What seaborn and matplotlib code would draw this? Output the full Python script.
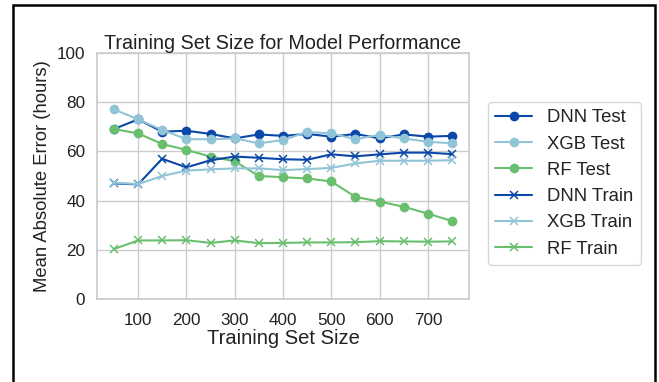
import numpy as np
import pandas as pd
import matplotlib
matplotlib.use("Agg")
import matplotlib.pyplot as plt
import seaborn as sns
from matplotlib.patches import Rectangle

# data
train_sizes = [50, 100, 150, 200, 250, 300, 350, 400, 450, 500, 550, 600, 650, 700, 750]

dnn_test = [69.1, 73.0, 68.0, 68.4, 67.1, 65.3, 66.9, 66.3, 67.1, 66.0, 67.1, 65.3, 66.9, 66.0, 66.3]
xgb_test = [77.1, 73.0, 68.7, 65.0, 64.9, 65.3, 63.3, 64.6, 67.9, 67.3, 65.0, 66.7, 65.3, 63.9, 63.3]
rf_test = [69.1, 67.3, 63.0, 60.6, 57.9, 56.0, 50.0, 49.5, 49.0, 47.8, 41.5, 39.6, 37.5, 34.7, 31.7]
dnn_train = [47.0, 46.6, 57.0, 53.5, 56.4, 57.9, 57.4, 56.8, 56.6, 58.8, 58.0, 58.8, 59.5, 59.5, 58.9]
xgb_train = [47.3, 46.7, 50.0, 52.2, 52.7, 53.1, 53.1, 52.4, 52.8, 53.3, 55.1, 56.2, 56.2, 56.2, 56.4]
rf_train = [20.3, 23.8, 23.8, 23.9, 22.8, 23.8, 22.7, 22.8, 23.0, 23.0, 23.1, 23.5, 23.4, 23.3, 23.4]

test_labels = ["DNN Test", "XGB Test", "RF Test"]
train_labels = ["DNN Train", "XGB Train", "RF Train"]
test_values = [dnn_test, xgb_test, rf_test]
train_values = [dnn_train, xgb_train, rf_train]
model_colors = ["#0a47a8", "#92c4d7", "#6abf6e"]

sns.set_theme(style="whitegrid")
plt.rcParams['font.family'] = ['Liberation Sans', 'DejaVu Sans']

fig = plt.figure(figsize=(6.59, 3.82), dpi=100)
ax = fig.add_axes([97 / 659, 83 / 382, 372 / 659, 246 / 382])

for labs, vals, mk in [(test_labels, test_values, "o"), (train_labels, train_values, "x")]:
    df = pd.concat([pd.DataFrame({"size": train_sizes, "mae": v, "series": l})
                    for l, v in zip(labs, vals)], ignore_index=True)
    sns.lineplot(data=df, x="size", y="mae", hue="series", style="series",
                 hue_order=labs, style_order=labs,
                 palette=dict(zip(labs, model_colors)),
                 markers={l: mk for l in labs}, dashes=False,
                 markersize=7 if mk == "o" else 6, linewidth=1.5,
                 markeredgewidth=0 if mk == "o" else 1.1, ax=ax)

# seaborn draws marker edges white; x markers need the line colour
for ln in ax.lines:
    ln.set_markeredgecolor(ln.get_color())

ax.set_ylim(0, 100)
ax.set_yticks([0, 20, 40, 60, 80, 100])
ax.set_xticks([100, 200, 300, 400, 500, 600, 700])
ax.tick_params(labelsize=12.3, colors="#222222")
ax.tick_params(axis="y", pad=2.5)
ax.tick_params(axis="x", pad=4)
ax.set_xlabel("Training Set Size", fontsize=14.5, color="#222222", labelpad=1)
ax.set_ylabel("Mean Absolute Error (hours)", fontsize=13.3, color="#222222", labelpad=4)
ax.set_title("Training Set Size for Model Performance", fontsize=14.2, color="#222222", pad=3)

handles, hl = ax.get_legend_handles_labels()
order = test_labels + train_labels
hmap = dict(zip(hl, handles))
leg = ax.legend([hmap[l] for l in order], order, loc="center left",
                bbox_to_anchor=(488 / 659, 1 - 183.5 / 382),
                bbox_transform=fig.transFigure, borderaxespad=0, fontsize=13.3,
                frameon=True, handlelength=2.0, labelspacing=0.5)
for t in leg.get_texts():
    t.set_color("#222222")
for h in leg.legend_handles:
    h.set_markeredgecolor(h.get_color())

# black frame around the figure
fig.patches.append(Rectangle((12.5 / 659, -0.05), (655 - 12.5) / 659, 1.05 - 4.5 / 382,
                             transform=fig.transFigure, fill=False,
                             edgecolor="black", linewidth=1.8))

fig.savefig("out.png", dpi=100)
